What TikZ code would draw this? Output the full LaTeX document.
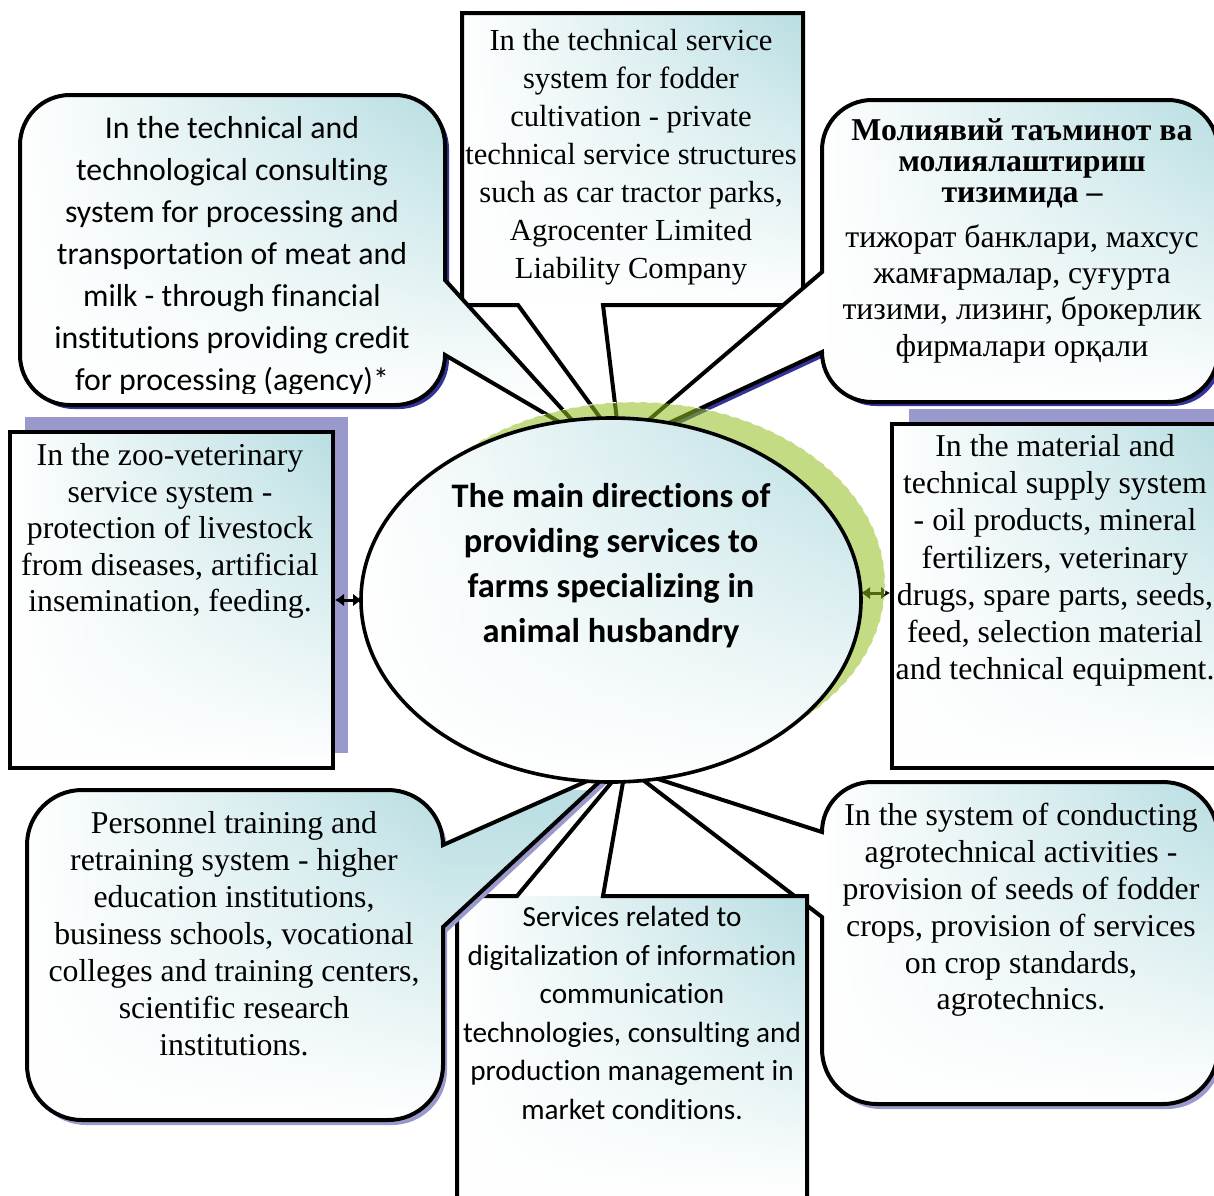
\documentclass[tikz,border=0pt]{standalone}
\usepackage{fontspec}
\setmainfont{Liberation Serif}
\newfontfamily\calfont[Ligatures=NoCommon]{Carlito}
\usetikzlibrary{shapes.geometric,arrows.meta,fadings}

\definecolor{tealc}{RGB}{184,222,226}
\definecolor{lav}{RGB}{153,153,204}
\definecolor{navyshadow}{RGB}{51,51,153}
\definecolor{leaf}{RGB}{146,190,30}

% outline of each callout (y grows downwards, 1 unit = 0.5pt)
\def\pathTM{(462,13) -- (803,13) -- (803,305) -- (603,305) -- (620,445) -- (518,305) -- (462,305) -- cycle}
\def\pathTL{(70,95) -- (395,95) .. controls (422.6,95) and (445,117.4) .. (445,145) -- (445,280) -- (590,440) -- (445,355) .. controls (445,382.6) and (422.6,405) .. (395,405) -- (70,405) .. controls (42.4,405) and (20,382.6) .. (20,355) -- (20,145) .. controls (20,117.4) and (42.4,95) .. (70,95) -- cycle}
\def\pathTR{(872,100) -- (1168,100) .. controls (1195.6,100) and (1218,122.4) .. (1218,150) -- (1218,352) .. controls (1218,379.6) and (1195.6,402) .. (1168,402) -- (872,402) .. controls (844.4,402) and (822,379.6) .. (822,352) -- (617,447) -- (822,272) -- (822,150) .. controls (822,122.4) and (844.4,100) .. (872,100) -- cycle}
\def\pathBL{(82,790) -- (388,790) .. controls (418.4,790) and (443,814.6) .. (443,845) -- (612,770) -- (443,927) -- (443,1065) .. controls (443,1095.4) and (418.4,1120) .. (388,1120) -- (82,1120) .. controls (51.6,1120) and (27,1095.4) .. (27,1065) -- (27,845) .. controls (27,814.6) and (51.6,790) .. (82,790) -- cycle}
\def\pathBR{(872,782) -- (1163,782) .. controls (1193.4,782) and (1218,806.6) .. (1218,837) -- (1218,1049) .. controls (1218,1079.4) and (1193.4,1104) .. (1163,1104) -- (877,1104) .. controls (846.6,1104) and (822,1079.4) .. (822,1049) -- (822,917) -- (630,770) -- (822,832) .. controls (822,804.4) and (844.4,782) .. (872,782) -- cycle}
\def\pathBM{(457,896) -- (517,896) -- (626,765) -- (603,896) -- (807,896) -- (807,1215) -- (457,1215) -- cycle}

% gradient fill: white to teal across the body, fading to white towards the bottom
\newcommand\bodyshade[5]{%
  \begin{scope}
    \clip #1;
    \fill[white] (-50,-50) rectangle (1300,1300);
    \fill[tealc] (#4,-50) rectangle (1300,1300);
    \shade[left color=white,right color=tealc] (#2,-50) rectangle (#4,1300);
    \fill[white,path fading=north] (-50,#3) rectangle (1300,#5);
    \fill[white] (-50,#5) rectangle (1300,1300);
    \fill[white] (-50,-50) rectangle (1300,#3);
  \end{scope}}

\tikzset{
  outline/.style={draw=black, line width=2pt, line join=miter},
  grad/.style={path picture={
    \shade[left color=white,right color=tealc]
      (path picture bounding box.south west) rectangle (path picture bounding box.north east);
    \fill[white,path fading=north]
      (path picture bounding box.south west) rectangle (path picture bounding box.north east);}},
  txt/.style={align=center, anchor=north, inner sep=0pt, text=black},
  biarrow/.style={arrows={Latex[length=4.5pt,width=6.5pt]-Latex[length=4.5pt,width=6.5pt]}, line width=1.5pt},
}

\begin{document}
\begin{tikzpicture}[x=0.5pt,y=-0.5pt]
\useasboundingbox (0,0) rectangle (1214,1195);
\fill[white] (0,0) rectangle (1214,1195);

% ---- top middle: technical service for fodder cultivation
\bodyshade{\pathTM}{462}{13}{803}{305}
\draw[outline] \pathTM;
\node[txt, font=\fontsize{15.3}{19}\selectfont] (fodder) at (631,29)
  {In the technical service\\ system for fodder\\ cultivation - private\\ technical service structures\\ such as car tractor parks,\\ Agrocenter Limited\\ Liability Company};

% ---- top left: processing and transportation
\fill[navyshadow, shift={(4,4)}] \pathTL;
\bodyshade{\pathTL}{20}{95}{445}{405}
\draw[outline] \pathTL;
\begin{scope}
  \clip (20,95) rectangle (445,393);
  \node[txt, font=\calfont\fontsize{15.9}{21}\selectfont] (processing) at (232,116)
    {In the technical and\\ technological consulting\\ system for processing and\\ transportation of meat and\\ milk - through financial\\ institutions providing credit\\ for processing (agency)*};
\end{scope}

% ---- top right: financing
\fill[navyshadow, shift={(4,4)}] \pathTR;
\bodyshade{\pathTR}{822}{100}{1218}{402}
\draw[outline] \pathTR;
\node[txt, font=\bfseries\fontsize{15.9}{15.5}\selectfont] (financeHead) at (1022,118)
  {Молиявий таъминот ва\\ молиялаштириш\\ тизимида –};
\node[txt, font=\fontsize{15.9}{18.2}\selectfont] (finance) at (1022,224)
  {тижорат банклари, махсус\\ жамғармалар, суғурта\\ тизими, лизинг, брокерлик\\ фирмалари орқали};

% ---- bottom right: agrotechnical activities
\fill[lav, shift={(4,5)}] \pathBR;
\bodyshade{\pathBR}{822}{782}{1218}{1104}
\draw[outline] \pathBR;
\node[txt, font=\fontsize{15.9}{18.4}\selectfont] (agro) at (1021,803)
  {In the system of conducting\\ agrotechnical activities -\\ provision of seeds of fodder\\ crops, provision of services\\ on crop standards,\\ agrotechnics.};

% ---- bottom middle: digitalization
\bodyshade{\pathBM}{457}{896}{807}{1195}
\draw[outline] \pathBM;
\node[txt, font=\calfont\fontsize{14.6}{19.25}\selectfont] (digital) at (632,906)
  {Services related to\\ digitalization of information\\ communication\\ technologies, consulting and\\ production management in\\ market conditions.};

% ---- bottom left: personnel training
\fill[lav, shift={(4,5)}] \pathBL;
\bodyshade{\pathBL}{27}{790}{443}{1120}
\draw[outline] \pathBL;
\node[txt, font=\fontsize{15.9}{18.5}\selectfont] (training) at (234,811)
  {Personnel training and\\ retraining system - higher\\ education institutions,\\ business schools, vocational\\ colleges and training centers,\\ scientific research\\ institutions.};

% ---- side boxes
\fill[lav] (25,417) rectangle (348,753);
\node[outline, grad, rectangle, minimum width=161.5pt, minimum height=168pt, inner sep=0pt] (zoo) at (171.5,600) {};
\node[txt, font=\fontsize{15.9}{18.3}\selectfont] (zooText) at (170,443)
  {In the zoo-veterinary\\ service system -\\ protection of livestock\\ from diseases, artificial\\ insemination, feeding.};

\fill[lav] (909,409) rectangle (1240,753);
\node[outline, grad, rectangle, minimum width=165pt, minimum height=172pt, inner sep=0pt] (supply) at (1057,596) {};
\node[txt, font=\fontsize{15.9}{18.6}\selectfont] (supplyText) at (1055,434)
  {In the material and\\ technical supply system\\ - oil products, mineral\\ fertilizers, veterinary\\ drugs, spare parts, seeds,\\ feed, selection material\\ and technical equipment.};

% ---- central ellipse with its green halo
\coordinate (hubc) at (611,600);
\draw[biarrow] (zoo.east) -- (zoo.east -| 362,0);
\draw[biarrow] (861,593) -- (supply.west |- 861,593);
\fill[leaf, fill opacity=0.55, draw=white, line width=0.5pt, dashed] (635,584) ellipse [x radius=125pt, y radius=91pt];
\node[ellipse, draw=black, line width=1.8pt, grad, minimum width=250pt, minimum height=182pt, inner sep=0pt] (hub) at (hubc) {};
\node[txt, font=\calfont\bfseries\fontsize{17.2}{22.5}\selectfont] (hubText) at (611,483)
  {The main directions of\\ providing services to\\ farms specializing in\\ animal husbandry};
\end{tikzpicture}
\end{document}
